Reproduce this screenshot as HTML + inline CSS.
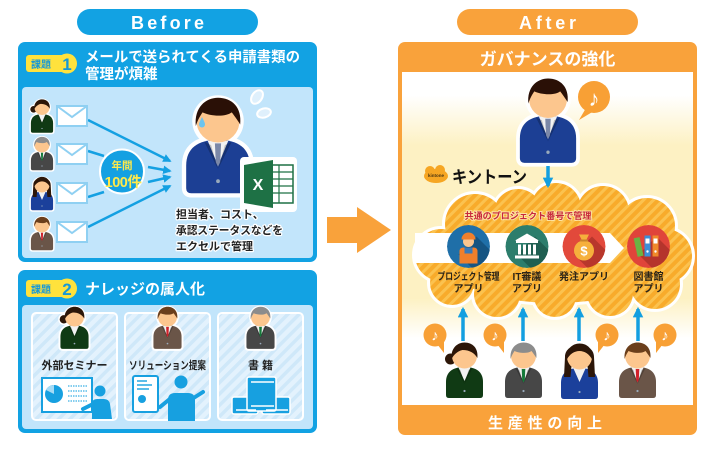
<!DOCTYPE html>
<html><head><meta charset="utf-8"><style>
html,body{margin:0;padding:0;background:#fff;}
svg{display:block;font-family:"Liberation Sans","Noto Sans CJK JP","DejaVu Sans",sans-serif;font-weight:700;}
</style></head><body>
<svg width="710" height="449" viewBox="0 0 710 449" xmlns="http://www.w3.org/2000/svg">
<defs>
 <linearGradient id="ag" x1="0" y1="0" x2="0" y2="1">
  <stop offset="0" stop-color="#fff"/>
  <stop offset="0.07" stop-color="#fff"/>
  <stop offset="0.22" stop-color="#fdf1c3"/>
  <stop offset="0.68" stop-color="#fdf1c3"/>
  <stop offset="0.8" stop-color="#fff"/>
  <stop offset="1" stop-color="#fff"/>
 </linearGradient>
 <pattern id="cs" patternUnits="userSpaceOnUse" width="7" height="7" patternTransform="rotate(45)">
  <rect width="7" height="7" fill="#f8ab2b"/>
  <rect width="3" height="7" fill="#fbc24f"/>
 </pattern>
 <pattern id="bs" patternUnits="userSpaceOnUse" width="8" height="8" patternTransform="rotate(45)">
  <rect width="8" height="8" fill="#e3f2fd"/>
  <rect width="3.5" height="8" fill="#cfe8f9"/>
 </pattern>
 <marker id="ma" viewBox="0 0 10 10" refX="8" refY="5" markerWidth="3.4" markerHeight="3.4" orient="auto" markerUnits="strokeWidth">
  <path d="M0,0 L10,5 L0,10 Z" fill="#14a0e2"/>
 </marker>
 <marker id="mb" viewBox="0 0 10 10" refX="8" refY="5" markerWidth="3" markerHeight="3" orient="auto" markerUnits="strokeWidth">
  <path d="M0,0 L10,5 L0,10 Z" fill="#139fe0"/>
 </marker>
 <clipPath id="cc"><circle r="21.5"/></clipPath>

 <g id="man">
  <path d="M-18.5,39 L-18.5,26 C-18.5,16 -12,11 0,11 C12,11 18.5,16 18.5,26 L18.5,39 Q18.5,42 15.5,42 L-15.5,42 Q-18.5,42 -18.5,39Z" fill="#fff" stroke="#fff" stroke-width="5" stroke-linejoin="round"/>
  <circle r="15" fill="#fff"/>
  <path d="M-18.5,39 L-18.5,26 C-18.5,16 -12,11 0,11 C12,11 18.5,16 18.5,26 L18.5,39 Q18.5,42 15.5,42 L-15.5,42 Q-18.5,42 -18.5,39Z" style="fill:var(--s)"/>
  <path d="M-6,11.5 L0,26 L6,11.5Z" fill="#f2f2f2"/>
  <path d="M-1.8,13 L1.8,13 L1.3,24 L0,26.5 L-1.3,24Z" style="fill:var(--t)"/>
  <path d="M-8,12 L0,28 L-4,14Z M8,12 L0,28 L4,14Z" fill="rgba(0,0,0,.22)"/>
  <circle cy="35" r="1.1" fill="#9ab"/>
  <circle r="12.5" fill="#fcc68e"/>
  <path d="M-12.9,3 C-14,-8 -7,-13.5 0,-13.5 C8,-13.5 14,-8 12.9,2 C11,-1 9.5,-3 8,-5 C4,-2 -5,-3 -9,-5 C-11,-2 -12,0 -12.9,3Z" style="fill:var(--h)"/>
 </g>
 <g id="wb">
  <path d="M-18.5,39 L-18.5,26 C-18.5,16 -12,11 0,11 C12,11 18.5,16 18.5,26 L18.5,39 Q18.5,42 15.5,42 L-15.5,42 Q-18.5,42 -18.5,39Z" fill="#fff" stroke="#fff" stroke-width="5" stroke-linejoin="round"/>
  <circle r="15" fill="#fff"/>
  <circle cx="-14" cy="3" r="7.5" fill="#fff"/>
  <path d="M-18.5,39 L-18.5,26 C-18.5,16 -12,11 0,11 C12,11 18.5,16 18.5,26 L18.5,39 Q18.5,42 15.5,42 L-15.5,42 Q-18.5,42 -18.5,39Z" style="fill:var(--s)"/>
  <path d="M-6,11.5 L0,25 L6,11.5Z" fill="#f2f2f2"/>
  <path d="M-8,12 L0,28 L-4,14Z M8,12 L0,28 L4,14Z" fill="rgba(0,0,0,.22)"/>
  <circle cy="35" r="1.1" fill="#9ab"/>
  <circle cx="-14" cy="3" r="5.5" style="fill:var(--h)"/>
  <circle r="12.5" fill="#fcc68e"/>
  <path d="M-12.9,3 C-14,-8 -7,-13.5 0,-13.5 C8,-13.5 14,-8 12.9,2 C10,-3 5,-6 -2,-6 C-7,-5 -11,-1 -12.9,3Z" style="fill:var(--h)"/>
 </g>
 <g id="wl">
  <path d="M-18.5,39 L-18.5,26 C-18.5,16 -12,11 0,11 C12,11 18.5,16 18.5,26 L18.5,39 Q18.5,42 15.5,42 L-15.5,42 Q-18.5,42 -18.5,39Z" fill="#fff" stroke="#fff" stroke-width="5" stroke-linejoin="round"/>
  <path d="M-14.5,0 C-14.5,-16 14.5,-16 14.5,0 L15.5,20 L-15.5,20Z" fill="#fff" stroke="#fff" stroke-width="4"/>
  <path d="M-18.5,39 L-18.5,26 C-18.5,16 -12,11 0,11 C12,11 18.5,16 18.5,26 L18.5,39 Q18.5,42 15.5,42 L-15.5,42 Q-18.5,42 -18.5,39Z" style="fill:var(--s)"/>
  <path d="M-6,11.5 L0,25 L6,11.5Z" fill="#f2f2f2"/>
  <circle cy="35" r="1.1" fill="#9ab"/>
  <path d="M-14.5,0 C-14.5,-16 14.5,-16 14.5,0 L15.5,20 L9,20 L8,9 L-8,9 L-9,20 L-15.5,20Z" style="fill:var(--h)"/>
  <circle r="12.5" fill="#fcc68e"/>
  <path d="M-12.9,3 C-14,-8 -7,-13.5 0,-13.5 C8,-13.5 14,-8 12.9,3 C10,-3 5,-6 0,-6 C-5,-6 -10,-3 -12.9,3Z" style="fill:var(--h)"/>
 </g>

 <g id="cl">
  <ellipse cx="555" cy="258" rx="112" ry="45"/>
  <circle cx="475" cy="224" r="30"/>
  <circle cx="518" cy="213" r="24"/>
  <circle cx="556" cy="208" r="25"/>
  <circle cx="603" cy="212" r="26"/>
  <circle cx="647" cy="226" r="28"/>
  <circle cx="665" cy="256" r="27"/>
  <circle cx="655" cy="284" r="25"/>
  <circle cx="441" cy="255" r="26"/>
  <circle cx="452" cy="283" r="22"/>
  <circle cx="497" cy="294" r="23"/>
  <circle cx="555" cy="296" r="21"/>
  <circle cx="610" cy="293" r="23"/>
 </g>

 <g id="noteR">
  <path d="M2,9 L9,18 L9,6Z" fill="#f8a035"/>
  <circle r="11.5" fill="#f8a035"/>
  <text y="5.5" text-anchor="middle" font-size="15" fill="#fff">♪</text>
 </g>
 <g id="noteL">
  <path d="M-2,9 L-9,18 L-9,6Z" fill="#f8a035"/>
  <circle r="11.5" fill="#f8a035"/>
  <text y="5.5" text-anchor="middle" font-size="15" fill="#fff">♪</text>
 </g>
</defs>

<!-- ========== BEFORE ========== -->
<rect x="77" y="9" width="181" height="26" rx="13" fill="#12a2e3"/>
<text x="167.5" y="29" text-anchor="middle" font-size="18" fill="#fff" textLength="73" lengthAdjust="spacing">Before</text>

<rect x="18" y="42" width="299" height="220" rx="7" fill="#12a2e3"/>
<rect x="22" y="87" width="291" height="171" rx="4" fill="#c2e5fb"/>
<rect x="26" y="55" width="42" height="17" rx="3" fill="#ffe23c"/>
<text x="31" y="68" font-size="10" fill="#1798d6">課題</text>
<circle cx="67" cy="63.5" r="10" fill="#ffe23c"/>
<text x="67" y="70" text-anchor="middle" font-size="17" fill="#1798d6">1</text>
<text x="85" y="62" font-size="14.5" fill="#fff" textLength="215" lengthAdjust="spacingAndGlyphs">メールで送られてくる申請書類の</text>
<text x="85" y="79" font-size="14.5" fill="#fff">管理が煩雑</text>

<g stroke="#14a0e2" stroke-width="2.5" fill="none">
 <line x1="88" y1="120" x2="170" y2="161" marker-end="url(#ma)"/>
 <line x1="88" y1="151" x2="104" y2="156"/>
 <line x1="148" y1="167" x2="170" y2="171" marker-end="url(#ma)"/>
 <line x1="88" y1="197" x2="104" y2="192"/>
 <line x1="148" y1="182" x2="170" y2="177" marker-end="url(#ma)"/>
 <line x1="88" y1="227" x2="170" y2="186" marker-end="url(#ma)"/>
</g>

<g fill="#fff" stroke="#8fd0f2" stroke-width="2">
 <rect x="57" y="106" width="30" height="20"/><polyline points="57,106 72,117 87,106" fill="none"/>
 <rect x="57" y="144" width="30" height="20"/><polyline points="57,144 72,155 87,144" fill="none"/>
 <rect x="57" y="183" width="30" height="20"/><polyline points="57,183 72,194 87,183" fill="none"/>
 <rect x="57" y="222" width="30" height="20"/><polyline points="57,222 72,233 87,222" fill="none"/>
</g>

<use href="#wb" transform="translate(42,107.5) scale(0.6)" style="--s:#103a14;--h:#2c1608"/>
<use href="#man" transform="translate(42,145) scale(0.6)" style="--s:#474747;--h:#8c8c8c;--t:#157a3a"/>
<use href="#wl" transform="translate(42,185) scale(0.6)" style="--s:#1b409b;--h:#2c1608"/>
<use href="#man" transform="translate(42,225) scale(0.6)" style="--s:#6a5548;--h:#6b3f1c;--t:#d0202a"/>

<circle cx="122" cy="171.5" r="22" fill="#14a0e2" stroke="#fff" stroke-width="2"/>
<text x="122" y="169" text-anchor="middle" font-size="10.5" fill="#ffe94a">年間</text>
<text x="123" y="187" text-anchor="middle" font-size="14.5" fill="#ffe94a" letter-spacing="-0.5">100件</text>

<use href="#man" transform="translate(218,121) scale(1.72)" style="--s:#1c3f94;--h:#2a1006;--t:#7b88a8"/>
<path d="M202,117 C204,121 205,123 205,124.5 A3,3 0 0 1 199,124.5 C199,123 200,121 202,117Z" fill="#6cc4ee"/>
<ellipse cx="257" cy="97" rx="5" ry="7.5" transform="rotate(35 257 97)" fill="#dff0fc" stroke="#fff" stroke-width="2"/>
<ellipse cx="264" cy="113" rx="7" ry="4.5" transform="rotate(-15 264 113)" fill="#dff0fc" stroke="#fff" stroke-width="2"/>

<rect x="240" y="157" width="57" height="55" rx="4" fill="#fff"/>
<rect x="266" y="165" width="27" height="38" fill="#fff" stroke="#1e7145" stroke-width="1.5"/>
<g stroke="#1e7145" stroke-width="1.2">
 <line x1="266" y1="172" x2="293" y2="172"/><line x1="266" y1="179" x2="293" y2="179"/>
 <line x1="266" y1="186" x2="293" y2="186"/><line x1="266" y1="193" x2="293" y2="193"/>
 <line x1="279" y1="165" x2="279" y2="203"/>
</g>
<path d="M244,165 L273,160 L273,208 L244,203Z" fill="#1e7145"/>
<text x="258" y="190" text-anchor="middle" font-size="16" fill="#fff">X</text>

<g font-size="11" fill="#222" stroke="#fff" stroke-width="2.5" paint-order="stroke" stroke-linejoin="round">
 <text x="176" y="218">担当者、コスト、</text>
 <text x="176" y="234" textLength="107" lengthAdjust="spacingAndGlyphs">承認ステータスなどを</text>
 <text x="176" y="250">エクセルで管理</text>
</g>

<rect x="18" y="270" width="299" height="163" rx="7" fill="#12a2e3"/>
<rect x="22" y="305" width="291" height="124" rx="4" fill="#c2e5fb"/>
<rect x="26" y="280" width="42" height="17" rx="3" fill="#ffe23c"/>
<text x="31" y="293" font-size="10" fill="#1798d6">課題</text>
<circle cx="67" cy="288.5" r="10" fill="#ffe23c"/>
<text x="67" y="295" text-anchor="middle" font-size="17" fill="#1798d6">2</text>
<text x="85" y="294" font-size="15" fill="#fff">ナレッジの属人化</text>

<g stroke="#fff" stroke-width="2" fill="url(#bs)">
 <rect x="32" y="313" width="85" height="107" rx="4"/>
 <rect x="125" y="313" width="85" height="107" rx="4"/>
 <rect x="218" y="313" width="85" height="107" rx="4"/>
</g>
<use href="#wb" transform="translate(74.5,317) scale(0.76)" style="--s:#103a14;--h:#2c1608"/>
<use href="#man" transform="translate(167.5,317) scale(0.76)" style="--s:#6a5548;--h:#6b3f1c;--t:#d0202a"/>
<use href="#man" transform="translate(260.5,317) scale(0.76)" style="--s:#474747;--h:#8c8c8c;--t:#157a3a"/>
<g font-size="11" fill="#222" text-anchor="middle">
 <text x="74.5" y="369" textLength="66" lengthAdjust="spacingAndGlyphs">外部セミナー</text>
 <text x="167.5" y="369" textLength="77" lengthAdjust="spacingAndGlyphs">ソリューション提案</text>
 <text x="260.5" y="369">書 籍</text>
</g>
<rect x="42" y="378" width="50" height="34" fill="#fff" stroke="#17a0e0" stroke-width="2"/>
<circle cx="54" cy="394" r="9" fill="#17a0e0"/>
<path d="M54,394 L54,385 A9,9 0 0 0 46,390 Z" fill="#a6dbf5"/>
<g stroke="#5cbde9" stroke-width="1.5" stroke-dasharray="1.5 1">
 <line x1="68" y1="386" x2="88" y2="386"/><line x1="68" y1="391" x2="88" y2="391"/>
 <line x1="68" y1="396" x2="88" y2="396"/><line x1="68" y1="401" x2="88" y2="401"/>
</g>
<circle cx="100" cy="391" r="5.5" fill="#17a0e0"/>
<path d="M92,419 L92,404 Q92,399 97,399 L104,399 Q109,399 110,404 L112,419Z" fill="#17a0e0"/>
<line x1="95" y1="403" x2="83" y2="409" stroke="#17a0e0" stroke-width="4" stroke-linecap="round"/>
<rect x="133" y="376" width="25" height="36" rx="2" fill="#fff" stroke="#17a0e0" stroke-width="2"/>
<g fill="#5cbde9">
 <rect x="137" y="380" width="10" height="2"/><rect x="137" y="384" width="15" height="2"/>
 <rect x="137" y="388" width="12" height="2"/>
</g>
<circle cx="142" cy="399" r="4" fill="#17a0e0"/>
<circle cx="181" cy="382" r="6.5" fill="#17a0e0"/>
<path d="M168,421 L168,400 Q168,393 175,393 L188,393 Q195,393 195,400 L195,421Z" fill="#17a0e0"/>
<line x1="171" y1="398" x2="160" y2="407" stroke="#17a0e0" stroke-width="4" stroke-linecap="round"/>
<line x1="192" y1="399" x2="203" y2="392" stroke="#17a0e0" stroke-width="4" stroke-linecap="round"/>
<g fill="#17a0e0" stroke="#fff" stroke-width="1.5">
 <rect x="232" y="397" width="26" height="17" rx="2"/>
 <rect x="262" y="397" width="28" height="17" rx="2"/>
 <rect x="247" y="377" width="29" height="34" rx="2"/>
</g>
<g stroke="#fff" stroke-width="1.5">
 <line x1="236" y1="410" x2="256" y2="410"/><line x1="266" y1="410" x2="288" y2="410"/>
 <line x1="251" y1="406" x2="274" y2="406"/><line x1="251" y1="382" x2="274" y2="382"/>
</g>

<polygon points="327,217 357,217 357,207 391,230 357,253 357,243 327,243" fill="#f9a23b"/>

<!-- ========== AFTER ========== -->
<rect x="457" y="9" width="181" height="26" rx="13" fill="#f9a23b"/>
<text x="547.5" y="29" text-anchor="middle" font-size="18" fill="#fff" textLength="57" lengthAdjust="spacing">After</text>

<rect x="398" y="42" width="299" height="393" rx="7" fill="#f9a23b"/>
<rect x="402" y="72" width="291" height="333" fill="url(#ag)"/>
<text x="547.5" y="65" text-anchor="middle" font-size="17" fill="#fff">ガバナンスの強化</text>
<text x="545" y="428" text-anchor="middle" font-size="15" fill="#fff" textLength="114" lengthAdjust="spacing">生産性の向上</text>

<use href="#man" transform="translate(548,99) scale(1.52)" style="--s:#1c3f94;--h:#2a1006;--t:#7b88a8"/>
<path d="M586,108 L579,120 L594,111Z" fill="#f8a035"/>
<circle cx="594" cy="97" r="16" fill="#f8a035"/>
<text x="594" y="106" text-anchor="middle" font-size="22" fill="#fff">♪</text>

<use href="#cl" fill="#fff" stroke="#fff" stroke-width="6"/>
<use href="#cl" fill="url(#cs)"/>

<ellipse cx="436" cy="176" rx="12" ry="7" fill="#f6a623"/>
<circle cx="430" cy="171" r="5" fill="#f6a623"/>
<circle cx="440" cy="170" r="5" fill="#f6a623"/>
<text x="436" y="177" text-anchor="middle" font-size="4.5" fill="#4a3410">kintone</text>
<text x="452" y="183" font-size="17" fill="#111" textLength="75" lengthAdjust="spacingAndGlyphs">キントーン</text>

<line x1="548" y1="166" x2="548" y2="186" stroke="#139fe0" stroke-width="3.5" marker-end="url(#mb)"/>

<polygon points="415,233 610,233 624,248 610,263 415,263" fill="#fff"/>
<text x="528" y="219" text-anchor="middle" font-size="9" fill="#c8283c" stroke="#fde3a0" stroke-width="2" paint-order="stroke" textLength="127" lengthAdjust="spacingAndGlyphs">共通のプロジェクト番号で管理</text>

<g transform="translate(468.5,246.5)">
 <g clip-path="url(#cc)"><circle r="21.5" fill="#1f6fa8"/><polygon points="-10,8 8,-10 35,17 17,35" fill="#155482"/></g>
 <path d="M-9,17 L-9,5 Q-9,1 -5,1 L5,1 Q9,1 9,5 L9,17Z" fill="#f07f2b"/>
 <rect x="-4" y="1" width="8" height="6" fill="#3a7ab8"/>
 <circle cy="-5" r="5.5" fill="#fcc68e"/>
 <path d="M-7,-7 A7,7 0 0 1 7,-7Z" fill="#f07f2b"/>
</g>
<g transform="translate(527,246.5)">
 <g clip-path="url(#cc)"><circle r="21.5" fill="#2c7d6c"/><polygon points="-10,8 8,-10 35,17 17,35" fill="#1f5f51"/></g>
 <g fill="#fff">
  <polygon points="-12,-6 0,-13 12,-6"/>
  <rect x="-11" y="-6" width="22" height="2.5"/>
  <rect x="-9" y="-2" width="3" height="10"/><rect x="-4" y="-2" width="3" height="10"/>
  <rect x="1" y="-2" width="3" height="10"/><rect x="6" y="-2" width="3" height="10"/>
  <rect x="-12" y="9" width="24" height="3"/>
 </g>
</g>
<g transform="translate(584,246.5)">
 <g clip-path="url(#cc)"><circle r="21.5" fill="#e2493b"/><polygon points="-10,8 8,-10 35,17 17,35" fill="#b8372c"/></g>
 <circle cy="4" r="10" fill="#f6b03c"/>
 <path d="M-5,-12 L5,-12 L2,-6 L-2,-6Z" fill="#f6b03c"/>
 <rect x="-4" y="-7" width="8" height="2" fill="#c9842a"/>
 <text y="9" text-anchor="middle" font-size="13" fill="#fff">$</text>
</g>
<g transform="translate(648.5,246.5)">
 <g clip-path="url(#cc)"><circle r="21.5" fill="#e0443a"/><polygon points="-10,8 8,-10 35,17 17,35" fill="#b5342c"/></g>
 <rect x="-13" y="-9" width="6" height="19" fill="#6bb343" transform="rotate(-12 -10 0)"/>
 <rect x="-4" y="-11" width="6" height="21" fill="#3c8fd8"/>
 <rect x="4" y="-11" width="6" height="21" fill="#f08a2a"/>
 <g fill="#fff"><rect x="-3" y="-8" width="4" height="5"/><rect x="5" y="-8" width="4" height="5"/><circle cx="-1" cy="5" r="1.2"/><circle cx="7" cy="5" r="1.2"/></g>
</g>

<g font-size="10" fill="#2b2418" text-anchor="middle">
 <text x="468.5" y="280" textLength="62" lengthAdjust="spacingAndGlyphs">プロジェクト管理</text>
 <text x="468.5" y="292">アプリ</text>
 <text x="527" y="280">IT審議</text>
 <text x="527" y="292">アプリ</text>
 <text x="584" y="280">発注アプリ</text>
 <text x="648.5" y="280">図書館</text>
 <text x="648.5" y="292">アプリ</text>
</g>

<g stroke="#139fe0" stroke-width="3.5" marker-end="url(#mb)">
 <line x1="463" y1="341" x2="463" y2="309"/>
 <line x1="523" y1="341" x2="523" y2="309"/>
 <line x1="579" y1="341" x2="579" y2="309"/>
 <line x1="638" y1="341" x2="638" y2="309"/>
</g>

<use href="#noteR" transform="translate(435,335)"/>
<use href="#noteR" transform="translate(495,335)"/>
<use href="#noteL" transform="translate(607,335)"/>
<use href="#noteL" transform="translate(665,335)"/>

<use href="#wb" transform="translate(464.5,356)" style="--s:#103a14;--h:#2c1608"/>
<use href="#man" transform="translate(523.5,356)" style="--s:#474747;--h:#8c8c8c;--t:#157a3a"/>
<use href="#wl" transform="translate(579.5,357)" style="--s:#1b409b;--h:#2c1608"/>
<use href="#man" transform="translate(637.5,356)" style="--s:#6a5548;--h:#6b3f1c;--t:#d0202a"/>
</svg>
</body></html>
